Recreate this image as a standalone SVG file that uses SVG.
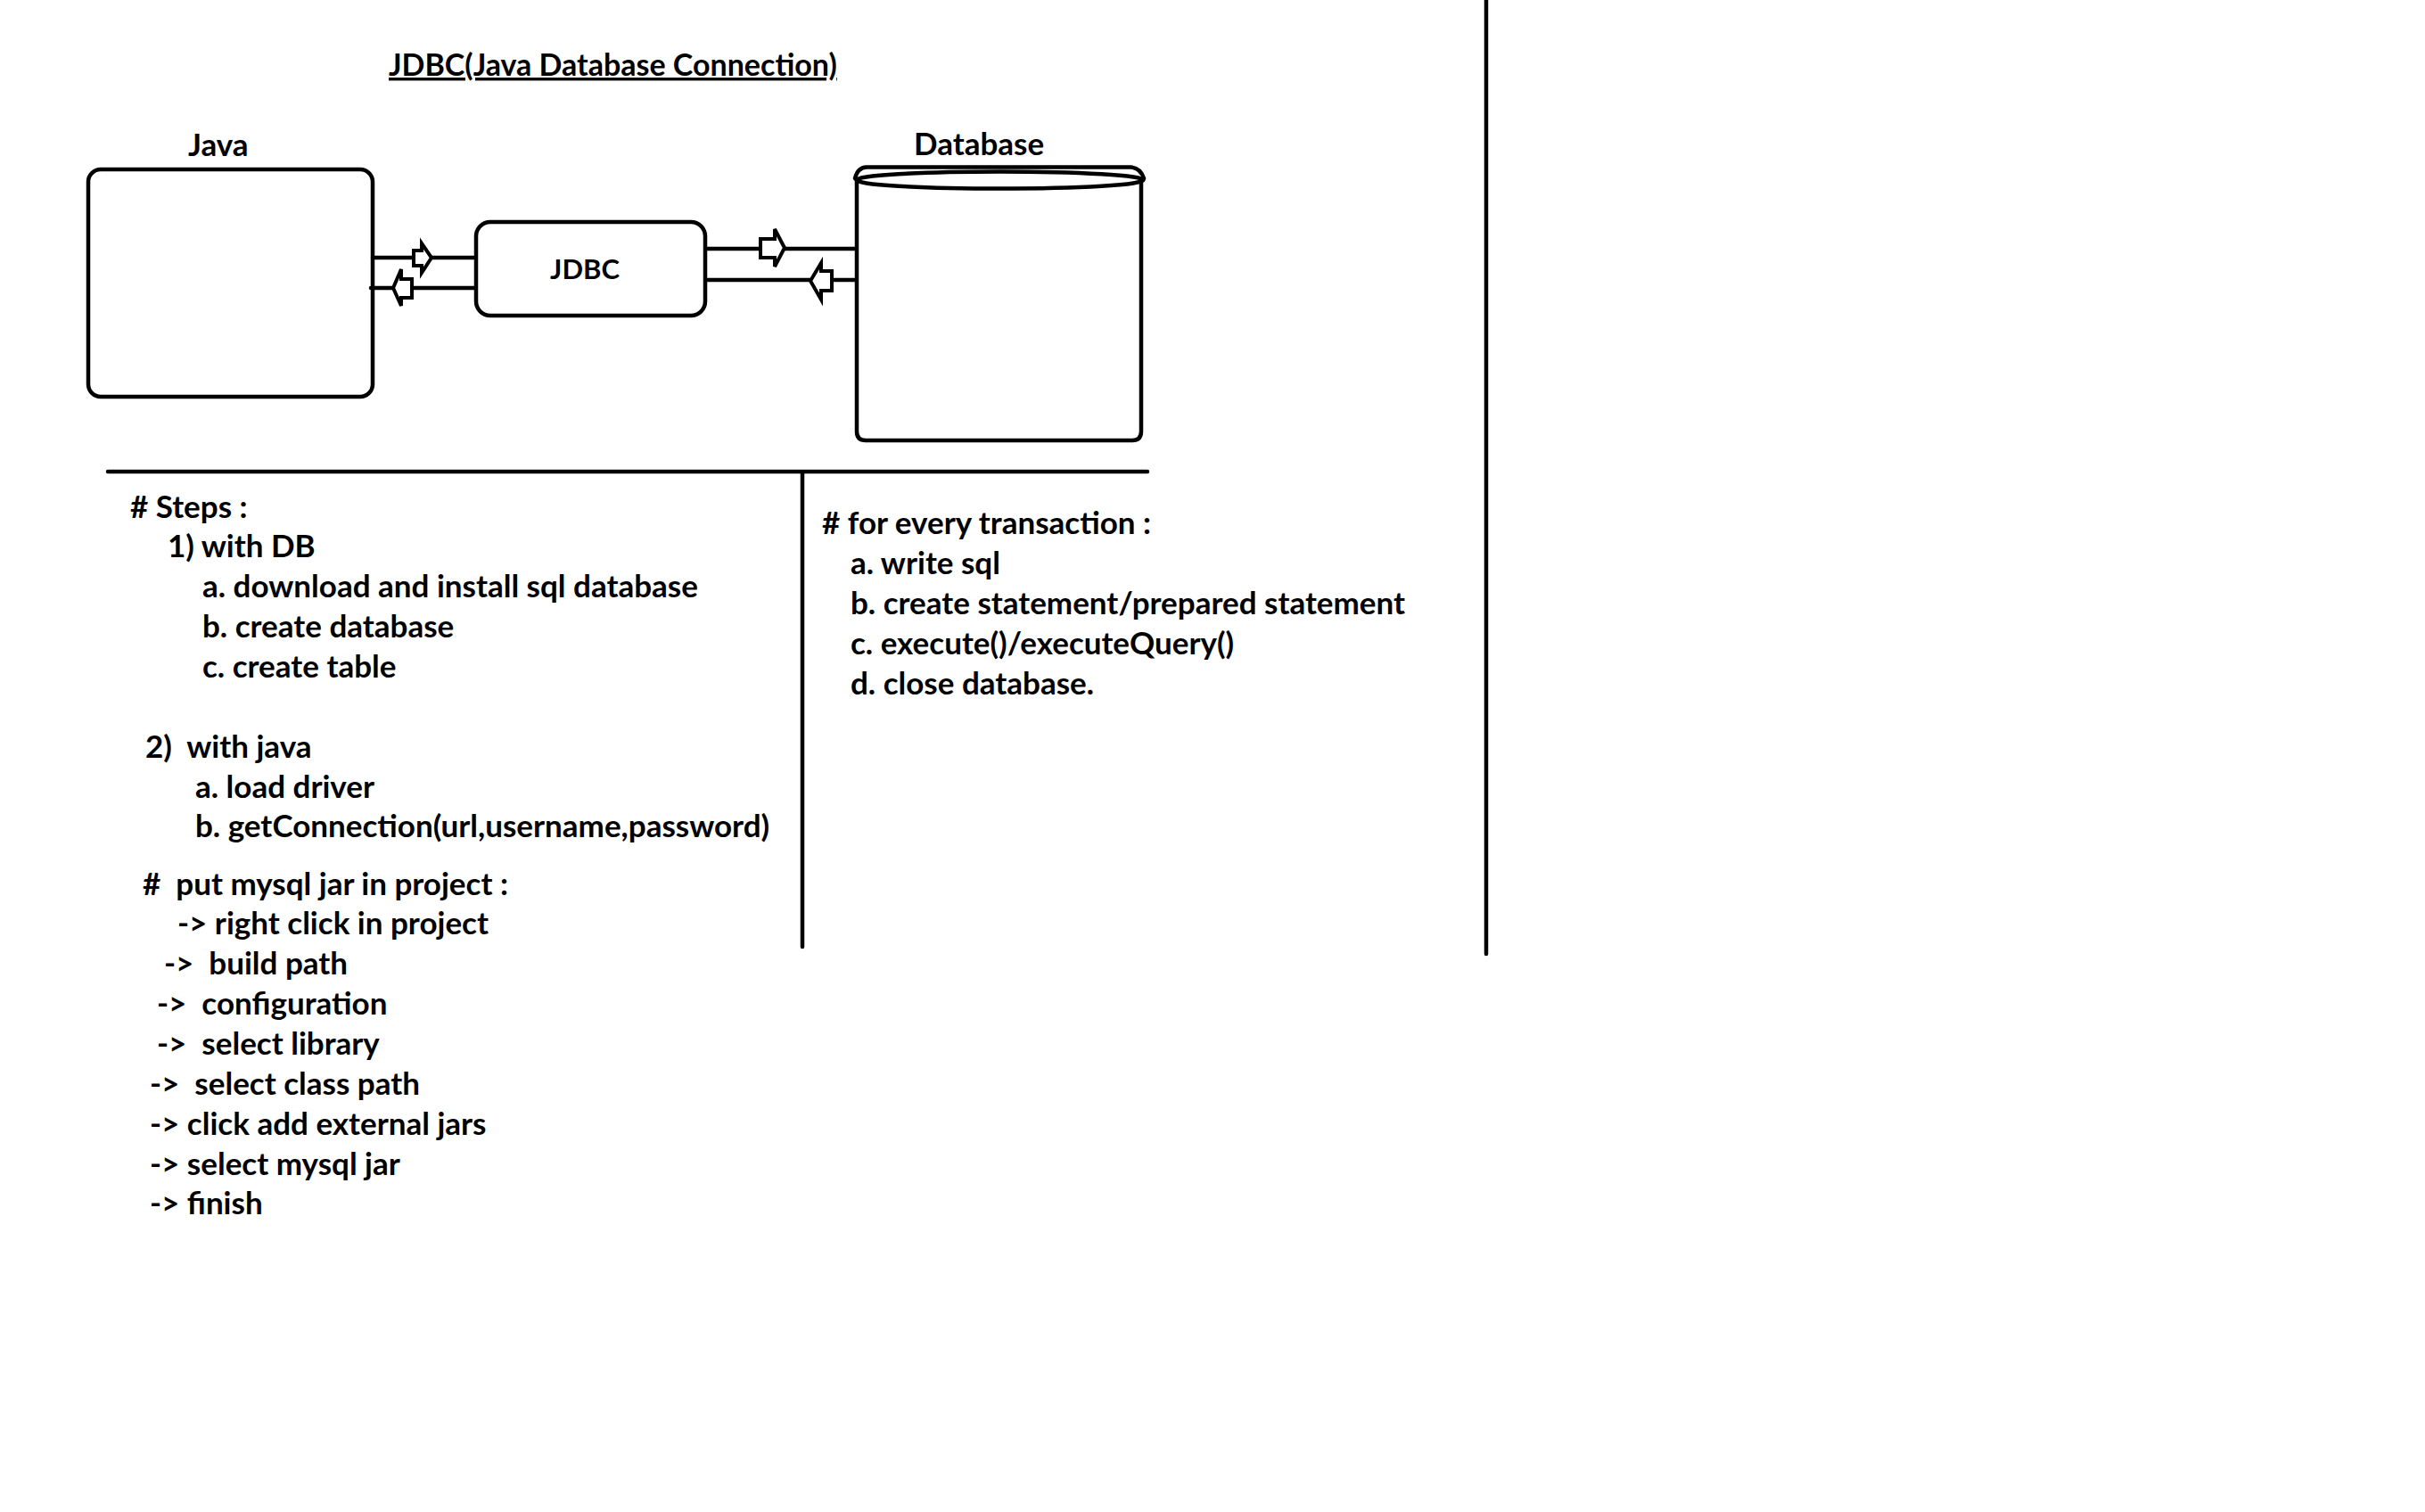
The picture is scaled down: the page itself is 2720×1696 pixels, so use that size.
<svg xmlns="http://www.w3.org/2000/svg" width="2720" height="1696" viewBox="0 0 2720 1696">
<style>
  .t { font-family: Lato, "Open Sans", "Liberation Sans", sans-serif; font-weight: 700; font-size: 35px; fill: #000; }
  .title { font-size: 34px; text-decoration: underline; }
  .box { fill: #fff; stroke: #000; stroke-width: 4.5; }
  .ln { stroke: #000; stroke-width: 4.5; fill: none; stroke-linecap: round; }
  .arrow { fill: #fff; stroke: #000; stroke-width: 4; stroke-linejoin: miter; }
</style>
<rect width="2720" height="1696" fill="#fff"/>

<text class="t title" x="436" y="85">JDBC(Java Database Connection)</text>

<g id="node-java">
  <text class="t" x="211" y="175">Java</text>
  <rect class="box" x="99" y="190" width="319" height="255" rx="14" ry="14"/>
</g>

<g id="connectors">
  <line class="ln" x1="418" y1="289" x2="540" y2="289"/>
  <line class="ln" x1="416" y1="323" x2="534" y2="323"/>
  <line class="ln" x1="790" y1="279" x2="964" y2="279"/>
  <line class="ln" x1="791" y1="314" x2="964" y2="314"/>
  <path class="arrow" d="M464,281 H473 V273 L484,289 L473,306 V298 H464 Z"/>
  <path class="arrow" d="M462,313 H450 V302 L441,323 L450,343 V334 H462 Z"/>
  <path class="arrow" d="M853,268 H869 V257 L880,278 L869,299 V289 H853 Z"/>
  <path class="arrow" d="M933,304 H921 V295 L909,315 L921,336 V326 H933 Z"/>
</g>

<g id="node-jdbc">
  <rect class="box" x="534" y="249" width="257" height="105" rx="16" ry="16"/>
  <text class="t" x="656" y="313" text-anchor="middle" style="font-size:31px">JDBC</text>
</g>

<g id="node-database">
  <text class="t" x="1025" y="174">Database</text>
  <path class="box" d="M961,200 V484 Q961,494 971,494 H1270 Q1280,494 1280,484 V202"/>
  <path class="ln" d="M959,200 Q962,188 972,187.5 H1268 Q1279,188 1283,200"/>
  <ellipse class="ln" cx="1121.5" cy="202" rx="161" ry="9.5"/>
</g>

<g id="dividers">
  <line class="ln" x1="121" y1="529" x2="1287" y2="529"/>
  <line class="ln" x1="900" y1="531" x2="900" y2="1062" stroke-linecap="butt"/>
  <line class="ln" x1="1667" y1="0" x2="1667" y2="1070"/>
</g>

<g id="steps">
  <text class="t" x="146" y="581">#&#160;Steps :</text>
  <text class="t" x="188" y="625">1) with DB</text>
  <text class="t" x="227" y="670">a. download and install sql database</text>
  <text class="t" x="227" y="715">b. create database</text>
  <text class="t" x="227" y="760">c. create table</text>
  <text class="t" x="163" y="850" xml:space="preserve">2)  with java</text>
  <text class="t" x="219" y="895">a. load driver</text>
  <text class="t" x="219" y="939">b. getConnection(url,username,password)</text>
</g>

<g id="mysql-jar">
  <text class="t" x="160" y="1004" xml:space="preserve">#  put mysql jar in project :</text>
  <text class="t" x="199" y="1048">-&gt; right click in project</text>
  <text class="t" x="184" y="1093" xml:space="preserve">-&gt;  build path</text>
  <text class="t" x="176" y="1138" xml:space="preserve">-&gt;  configuration</text>
  <text class="t" x="176" y="1183" xml:space="preserve">-&gt;  select library</text>
  <text class="t" x="168" y="1228" xml:space="preserve">-&gt;  select class path</text>
  <text class="t" x="168" y="1273">-&gt; click add external jars</text>
  <text class="t" x="168" y="1318">-&gt; select mysql jar</text>
  <text class="t" x="168" y="1362">-&gt; finish</text>
</g>

<g id="transaction">
  <text class="t" x="922" y="599"># for every transaction :</text>
  <text class="t" x="954" y="644">a. write sql</text>
  <text class="t" x="954" y="689">b. create statement/prepared statement</text>
  <text class="t" x="954" y="734">c. execute()/executeQuery()</text>
  <text class="t" x="954" y="779">d. close database.</text>
</g>
</svg>
